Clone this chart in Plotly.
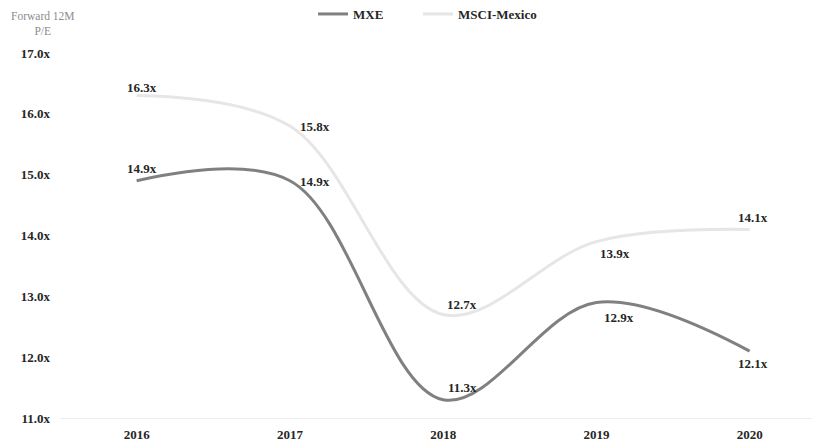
import plotly.graph_objects as go

years = ["2016", "2017", "2018", "2019", "2020"]
mxe = [14.9, 14.9, 11.3, 12.9, 12.1]
msci = [16.3, 15.8, 12.7, 13.9, 14.1]
y_ticks = [11, 12, 13, 14, 15, 16, 17]

FONT = "Liberation Serif"
TXT = "#262626"
W, H = 820, 446
L, T, B = 52, 45, 36
PW, PH = W - L, H - T - B
STEP = 153.25
XMAX = (W - L) / STEP - 0.5

fig = go.Figure()
fig.add_trace(go.Scatter(x=years, y=mxe, name="MXE", mode="lines", legend="legend",
                         line=dict(color="#808080", width=3, shape="spline", smoothing=1.0)))
fig.add_trace(go.Scatter(x=years, y=msci, name="MSCI-Mexico", mode="lines", legend="legend2",
                         line=dict(color="#e6e6e6", width=3, shape="spline", smoothing=1.0)))

# label offsets (px): (dx, dy up)
msci_off = [(5, 8), (25, 0), (19, 10), (19, -12), (3, 12)]
mxe_off = [(5, 12), (25, -1), (19, 12), (23, -15), (3, -12)]

anns = []
for vals, offs in ((msci, msci_off), (mxe, mxe_off)):
    for i, (v, (dx, dy)) in enumerate(zip(vals, offs)):
        anns.append(dict(x=i, y=v, xref="x", yref="y", text=f"{v:.1f}x", showarrow=False,
                         xshift=dx, yshift=dy, xanchor="center", yanchor="middle",
                         font=dict(family=FONT, size=13, color=TXT, weight="bold")))
anns.append(dict(x=(35 - L) / PW, y=(H - B - 16) / PH, xref="paper", yref="paper",
                 text="Forward 12M<br>P/E", showarrow=False, xanchor="center", yanchor="middle",
                 font=dict(family=FONT, size=11.5, color="#8c8c8c")))

leg_common = dict(orientation="h", xanchor="left", yanchor="top", y=(H - B + 9) / PH,
                  font=dict(family=FONT, size=13, color=TXT, weight="bold"),
                  bgcolor="rgba(0,0,0,0)")
fig.update_layout(
    width=W, height=H,
    margin=dict(l=L, r=0, t=T, b=B, autoexpand=False),
    plot_bgcolor="white", paper_bgcolor="white",
    font=dict(family=FONT, size=13, color=TXT),
    showlegend=True,
    legend=dict(x=(305 - L) / PW, **leg_common),
    legend2=dict(x=(410 - L) / PW, **leg_common),
    annotations=anns,
)

fig.update_xaxes(type="category", range=[-0.5, XMAX], showgrid=False, showline=True,
                 linecolor="#ececec", linewidth=1, ticks="", zeroline=False,
                 ticklabelstandoff=4,
                 tickfont=dict(family=FONT, size=13, color=TXT, weight="bold"))
fig.update_yaxes(range=[11, 17], tickvals=y_ticks, ticktext=[f"{t:.1f}x" for t in y_ticks],
                 showgrid=False, zeroline=False, showline=False, ticks="",
                 ticklabelstandoff=9,
                 tickfont=dict(family=FONT, size=13, color=TXT, weight="bold"))

fig.write_html("out.html")
